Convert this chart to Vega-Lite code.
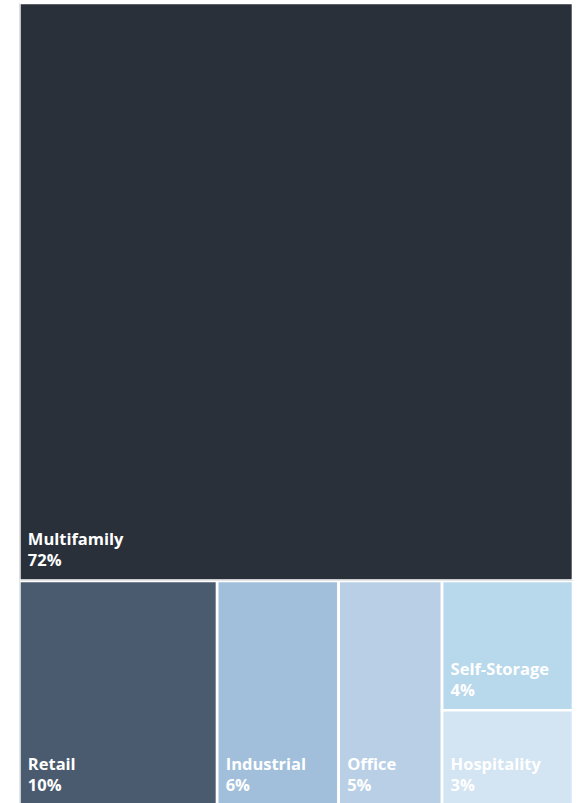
{
  "$schema": "https://vega.github.io/schema/vega-lite/v6.json",
  "background": "white",
  "padding": {"left": 19.35, "top": 3, "right": 0, "bottom": 0},
  "spacing": 0,
  "bounds": "flush",
  "config": {"view": {"stroke": null}, "concat": {"spacing": 0}},
  "datasets": {
    "sectors": [
      {"name": "Multifamily", "share": 0.72, "band": "top", "column": "Multifamily", "order": 1},
      {"name": "Retail", "share": 0.1, "band": "bottom", "column": "Retail", "order": 1},
      {"name": "Industrial", "share": 0.0614, "band": "bottom", "column": "Industrial", "order": 2},
      {"name": "Office", "share": 0.0523, "band": "bottom", "column": "Office", "order": 3},
      {"name": "Self-Storage", "share": 0.0381, "band": "bottom", "column": "Self-Storage & Hospitality", "order": 4},
      {"name": "Hospitality", "share": 0.0281, "band": "bottom", "column": "Self-Storage & Hospitality", "order": 4}
    ]
  },
  "vconcat": [
    {
      "width": 553.7,
      "height": 577.5,
      "data": {"name": "sectors"},
      "transform": [
        {"filter": "datum.band === 'top'"},
        {"stack": "share", "groupby": [], "offset": "normalize", "sort": [{"field": "order"}], "as": ["xs0", "xs1"]},
        {"joinaggregate": [{"op": "min", "field": "xs0", "as": "x0"}, {"op": "max", "field": "xs1", "as": "x1"}], "groupby": ["column"]},
        {"stack": "share", "groupby": ["column"], "offset": "normalize", "sort": [{"field": "share", "order": "descending"}], "as": ["y0", "y1"]}
      ],
      "encoding": {
        "x": {"field": "x0", "type": "quantitative", "scale": {"domain": [0, 1], "nice": false, "zero": false}, "axis": null},
        "y": {"field": "y1", "type": "quantitative", "scale": {"domain": [0, 1], "nice": false, "zero": false, "reverse": true}, "axis": null}
      },
      "layer": [
        {
          "mark": {"type": "rect", "stroke": "white", "strokeWidth": 2.7, "clip": true},
          "encoding": {
            "x2": {"field": "x1"},
            "y": {"field": "y0", "type": "quantitative"},
            "y2": {"field": "y1"},
            "color": {"field": "name", "type": "nominal", "legend": null,
              "scale": {"domain": ["Multifamily", "Retail", "Industrial", "Office", "Self-Storage", "Hospitality"],
                        "range": ["#29303a", "#4a5a6f", "#a1bfdb", "#b9cfe6", "#b8d8ec", "#d3e4f2"]}}
          }
        },
        {
          "mark": {"type": "text", "align": "left", "baseline": "alphabetic", "dx": 8.5, "dy": -35.5, "font": "Open Sans", "fontSize": 16.5, "fontWeight": "bold", "color": "white"},
          "encoding": {"text": {"field": "name", "type": "nominal"}}
        },
        {
          "mark": {"type": "text", "align": "left", "baseline": "alphabetic", "dx": 8.5, "dy": -14.5, "font": "Open Sans", "fontSize": 16.5, "fontWeight": "bold", "color": "white"},
          "encoding": {"text": {"field": "share", "type": "quantitative", "format": ".0%"}}
        }
      ]
    },
    {
      "width": 553.7,
      "height": 224.6,
      "data": {"name": "sectors"},
      "transform": [
        {"filter": "datum.band === 'bottom'"},
        {"stack": "share", "groupby": [], "offset": "normalize", "sort": [{"field": "order"}], "as": ["xs0", "xs1"]},
        {"joinaggregate": [{"op": "min", "field": "xs0", "as": "x0"}, {"op": "max", "field": "xs1", "as": "x1"}], "groupby": ["column"]},
        {"stack": "share", "groupby": ["column"], "offset": "normalize", "sort": [{"field": "share", "order": "descending"}], "as": ["y0", "y1"]}
      ],
      "encoding": {
        "x": {"field": "x0", "type": "quantitative", "scale": {"domain": [0, 1], "nice": false, "zero": false}, "axis": null},
        "y": {"field": "y1", "type": "quantitative", "scale": {"domain": [0, 1], "nice": false, "zero": false, "reverse": true}, "axis": null}
      },
      "layer": [
        {
          "mark": {"type": "rect", "stroke": "white", "strokeWidth": 2.7, "clip": true},
          "encoding": {
            "x2": {"field": "x1"},
            "y": {"field": "y0", "type": "quantitative"},
            "y2": {"field": "y1"},
            "color": {"field": "name", "type": "nominal", "legend": null}
          }
        },
        {
          "mark": {"type": "text", "align": "left", "baseline": "alphabetic", "dx": 8.5, "dy": -35.5, "font": "Open Sans", "fontSize": 16.5, "fontWeight": "bold", "color": "white"},
          "encoding": {"text": {"field": "name", "type": "nominal"}}
        },
        {
          "mark": {"type": "text", "align": "left", "baseline": "alphabetic", "dx": 8.5, "dy": -14.5, "font": "Open Sans", "fontSize": 16.5, "fontWeight": "bold", "color": "white"},
          "encoding": {"text": {"field": "share", "type": "quantitative", "format": ".0%"}}
        }
      ]
    }
  ]
}
